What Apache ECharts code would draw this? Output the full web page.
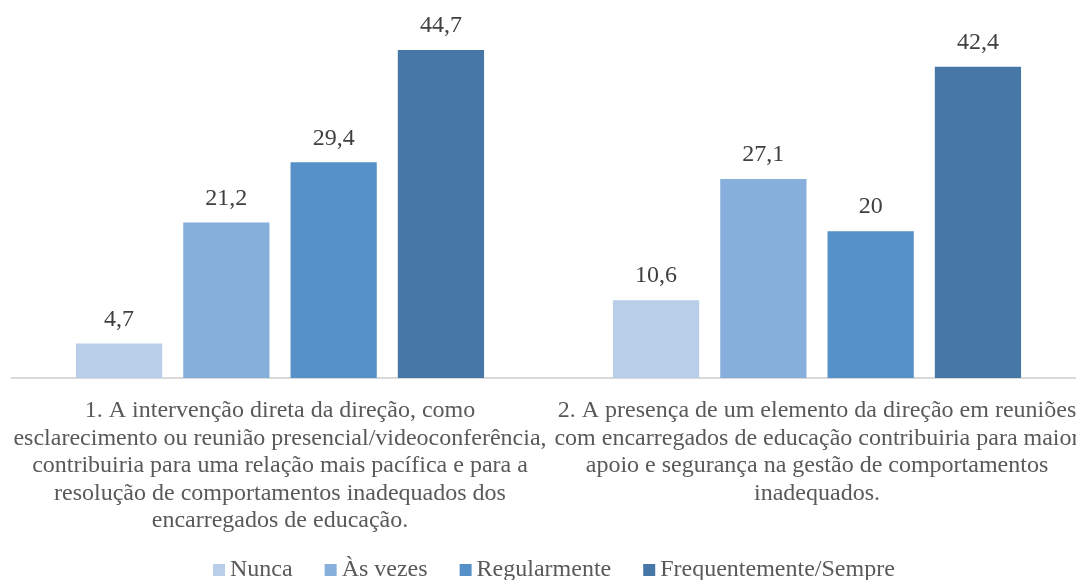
<!DOCTYPE html>
<html>
<head>
<meta charset="utf-8">
<script src="https://cdn.jsdelivr.net/npm/echarts@6/dist/echarts.min.js"></script>
<style>
  html, body { margin: 0; padding: 0; background: #fff; overflow: hidden; }
  #chart { width: 1090px; height: 580px; }
</style>
</head>
<body>
<div id="chart"></div>
<script>
const categories = [
  '1. A intervenção direta da direção, como\nesclarecimento ou reunião presencial/videoconferência,\ncontribuiria para uma relação mais pacífica e para a\nresolução de comportamentos inadequados dos\nencarregados de educação.',
  '2. A presença de um elemento da direção em reuniões\ncom encarregados de educação contribuiria para maior\napoio e segurança na gestão de comportamentos\ninadequados.'
]
const seriesNames = ['Nunca', 'Às vezes', 'Regularmente', 'Frequentemente/Sempre']
const nunca = [4.7, 10.6]
const asVezes = [21.2, 27.1]
const regularmente = [29.4, 20]
const frequentemente = [44.7, 42.4]
const colors = ['#B9CEE9', '#86AFDB', '#5590C8', '#4677A7']

const font = '"Liberation Serif", "Times New Roman", serif'
const chart = echarts.init(document.getElementById('chart'))

const values = [nunca, asVezes, regularmente, frequentemente]
const series = seriesNames.map((name, i) => ({
  name: name,
  type: 'bar',
  data: values[i],
  barGap: '24.4%',
  barCategoryGap: '24%',
  itemStyle: { color: colors[i] },
  label: {
    show: true,
    position: 'top',
    distance: 12,
    color: '#404040',
    fontFamily: font,
    fontSize: 24,
    formatter: p => String(p.value).replace('.', ',')
  }
}))

chart.setOption({
  animation: false,
  textStyle: { fontFamily: font },
  grid: { left: 11.5, top: 11, width: 1074, height: 367 },
  legend: {
    top: 553,
    left: 208,
    icon: 'rect',
    itemWidth: 12,
    itemHeight: 12,
    itemGap: 32,
    textStyle: { color: '#595959', fontFamily: font, fontSize: 24 },
    data: seriesNames
  },
  xAxis: {
    type: 'category',
    data: categories,
    axisLine: { lineStyle: { color: '#D9D9D9', width: 2 } },
    axisTick: { show: false },
    axisLabel: {
      interval: 0,
      margin: 19,
      color: '#595959',
      fontFamily: font,
      fontSize: 24,
      lineHeight: 27.5,
      align: 'center'
    }
  },
  yAxis: {
    type: 'value',
    min: 0,
    max: 50,
    show: false,
    splitLine: { show: false }
  },
  series: series
})
</script>
</body>
</html>
